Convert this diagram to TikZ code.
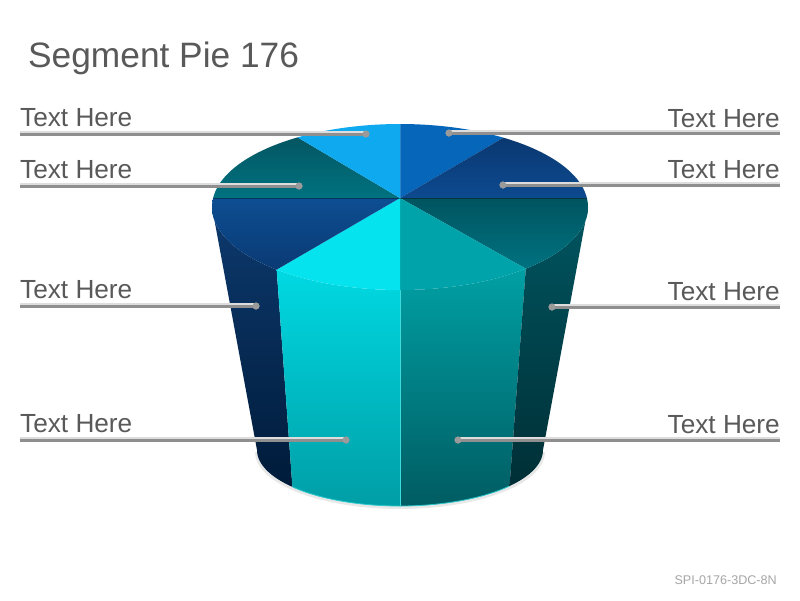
\documentclass[tikz,border=0pt]{standalone}
\usepackage{fontspec}
\setmainfont{Liberation Sans}
\begin{document}
\begin{tikzpicture}[x=1pt,y=-1pt]
\definecolor{txt}{HTML}{595959}
\definecolor{lead}{HTML}{8F8F8F}
\definecolor{leadsh}{HTML}{DDDDDD}
\definecolor{dotc}{HTML}{9A9A9A}
\definecolor{foot}{HTML}{A6A6A6}
\tikzset{
  lbl/.style={text=txt,font=\fontsize{26.2}{30}\selectfont,inner sep=0pt},
  leader/.style={draw=lead,line width=3pt},
  leadershadow/.style={draw=leadsh,line width=1.5pt},
  dotmark/.style={circle,fill=dotc,minimum size=7pt,inner sep=0pt},
}
\useasboundingbox (0,0) rectangle (800,600);
\fill[white] (0,0) rectangle (800,600);
% soft shadow
\fill[black!15,opacity=0.6] plot[domain=0:180,samples=40]({400+145*cos(\x)},{452+57*sin(\x)}) -- cycle;
% side faces
\shade[top color={rgb,255:red,13;green,58;blue,110},bottom color={rgb,255:red,0;green,27;blue,58}]
  plot[domain=131:180,samples=40]({400+188*cos(\x)},{207+83*sin(\x)})
  -- plot[domain=180:138.8,samples=40]({400+143*cos(\x)},{450+56*sin(\x)}) -- cycle;
\shade[top color={rgb,255:red,0;green,217;blue,226},bottom color={rgb,255:red,0;green,158;blue,166}]
  plot[domain=90:131,samples=40]({400+188*cos(\x)},{207+83*sin(\x)})
  -- plot[domain=138.8:90,samples=40]({400+143*cos(\x)},{450+56*sin(\x)}) -- cycle;
\shade[top color={rgb,255:red,0;green,160;blue,164},bottom color={rgb,255:red,0;green,92;blue,98}]
  plot[domain=48:90,samples=40]({400+188*cos(\x)},{207+83*sin(\x)})
  -- plot[domain=90:40,samples=40]({400+143*cos(\x)},{450+56*sin(\x)}) -- cycle;
\shade[top color={rgb,255:red,0;green,85;blue,96},bottom color={rgb,255:red,0;green,47;blue,54}]
  plot[domain=0:48,samples=40]({400+188*cos(\x)},{207+83*sin(\x)})
  -- plot[domain=40:0,samples=40]({400+143*cos(\x)},{450+56*sin(\x)}) -- cycle;
% highlight edges
\draw[color={rgb,255:red,60;green,220;blue,220},line width=0.8pt] (400,290) -- (400,506);
\draw[color={rgb,255:red,40;green,200;blue,205},line width=0.8pt] plot[domain=138.8:40,samples=40]({400+143*cos(\x)},{450+56*sin(\x)});
% top wedges
\coordinate (A) at (400,198);
\fill[color={rgb,255:red,5;green,102;blue,186}] (A) -- plot[domain=270:303.4,samples=30]({400+188*cos(\x)},{207+83*sin(\x)}) -- cycle;
\shade[top color={rgb,255:red,10;green,56;blue,112},bottom color={rgb,255:red,13;green,74;blue,144}] (A) -- plot[domain=303.4:353.8,samples=30]({400+188*cos(\x)},{207+83*sin(\x)}) -- cycle;
\shade[top color={rgb,255:red,0;green,84;blue,96},bottom color={rgb,255:red,0;green,114;blue,128}] (A) -- plot[domain=-6.2:48,samples=30]({400+188*cos(\x)},{207+83*sin(\x)}) -- cycle;
\fill[color={rgb,255:red,0;green,163;blue,170}] (A) -- plot[domain=48:90,samples=30]({400+188*cos(\x)},{207+83*sin(\x)}) -- cycle;
\fill[color={rgb,255:red,5;green,227;blue,238}] (A) -- plot[domain=90:131,samples=30]({400+188*cos(\x)},{207+83*sin(\x)}) -- cycle;
\shade[top color={rgb,255:red,13;green,78;blue,146},bottom color={rgb,255:red,10;green,58;blue,116}] (A) -- plot[domain=131:186.2,samples=30]({400+188*cos(\x)},{207+83*sin(\x)}) -- cycle;
\shade[top color={rgb,255:red,4;green,86;blue,98},bottom color={rgb,255:red,0;green,114;blue,128}] (A) -- plot[domain=186.2:237,samples=30]({400+188*cos(\x)},{207+83*sin(\x)}) -- cycle;
\fill[color={rgb,255:red,14;green,169;blue,239}] (A) -- plot[domain=237:270,samples=30]({400+188*cos(\x)},{207+83*sin(\x)}) -- cycle;
% divider lines
\draw[black,opacity=0.35,line width=0.7pt] (213,198) -- (587,198);
\draw[white,opacity=0.15,line width=0.6pt] (400,124) -- (A);
% title and footer
\node[text=txt,font=\fontsize{35.3}{40}\selectfont,inner sep=0pt,anchor=base west] (title) at (28,67) {Segment Pie 176};
\node[text=foot,font=\fontsize{12.6}{14}\selectfont,inner sep=0pt,anchor=base east] (footer) at (777,584) {SPI-0176-3DC-8N};
% left labels
\node[lbl,anchor=base west] (l1) at (20,126) {Text Here};
\node[lbl,anchor=base west] (l2) at (20,178) {Text Here};
\node[lbl,anchor=base west] (l3) at (20,298) {Text Here};
\node[lbl,anchor=base west] (l4) at (20,432) {Text Here};
\coordinate (ls1) at (20,134); \node[dotmark] (ld1) at (366,134) {};
\coordinate (ls2) at (20,186); \node[dotmark] (ld2) at (299,186) {};
\coordinate (ls3) at (20,306); \node[dotmark] (ld3) at (256,306) {};
\coordinate (ls4) at (20,440); \node[dotmark] (ld4) at (346,440) {};
% right labels
\node[lbl,anchor=base east] (r1) at (780,127) {Text Here};
\node[lbl,anchor=base east] (r2) at (780,178) {Text Here};
\node[lbl,anchor=base east] (r3) at (780,300) {Text Here};
\node[lbl,anchor=base east] (r4) at (780,433) {Text Here};
\coordinate (rs1) at (780,133); \node[dotmark] (rd1) at (449,133) {};
\coordinate (rs2) at (780,185); \node[dotmark] (rd2) at (503,185) {};
\coordinate (rs3) at (780,307); \node[dotmark] (rd3) at (552,307) {};
\coordinate (rs4) at (780,440); \node[dotmark] (rd4) at (458,440) {};
\foreach \i in {1,2,3,4}{
  \draw[leadershadow] ([yshift=2pt]ls\i) -- ([yshift=2pt]ld\i.center);
  \draw[leadershadow] ([yshift=2pt]rs\i) -- ([yshift=2pt]rd\i.center);
  \draw[leader] (ls\i) -- (ld\i.center);
  \draw[leader] (rs\i) -- (rd\i.center);
  \node[dotmark] at (ld\i) {};
  \node[dotmark] at (rd\i) {};
}
\end{tikzpicture}
\end{document}
